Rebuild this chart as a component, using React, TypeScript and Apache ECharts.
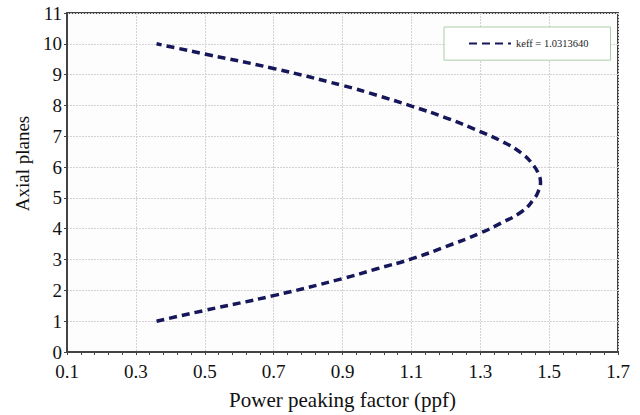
import React, { useEffect, useRef } from "react";
import * as echarts from "echarts";

const seriesName = "keff = 1.0313640";
// Power peaking factor (x) vs axial plane (y)
const ppf = [0.36, 0.5, 0.7, 0.9, 1.0, 1.1, 1.2, 1.3, 1.36, 1.42, 1.455, 1.47, 1.475, 1.47, 1.455, 1.42, 1.36, 1.3, 1.2, 1.1, 1.0, 0.9, 0.7, 0.5, 0.36];
const axial = [1.0, 1.35, 1.83, 2.38, 2.7, 3.02, 3.42, 3.86, 4.18, 4.55, 4.95, 5.25, 5.5, 5.75, 6.05, 6.45, 6.85, 7.15, 7.6, 7.98, 8.33, 8.65, 9.2, 9.67, 10.0];
const xTicks = [0.1, 0.3, 0.5, 0.7, 0.9, 1.1, 1.3, 1.5, 1.7];
const xMinorTicks = [
  0.14, 0.18, 0.22, 0.26, 0.34, 0.38, 0.42, 0.46, 0.54, 0.58, 0.62, 0.66,
  0.74, 0.78, 0.82, 0.86, 0.94, 0.98, 1.02, 1.06, 1.14, 1.18, 1.22, 1.26,
  1.34, 1.38, 1.42, 1.46, 1.54, 1.58, 1.62, 1.66,
];

const FONT = "'Liberation Serif', 'Times New Roman', serif";

export default function App() {
  const ref = useRef<HTMLDivElement>(null);
  useEffect(() => {
    if (!ref.current) return;
    const chart = echarts.init(ref.current, null, { renderer: "svg" });
    const data = ppf.map((x, i) => [x, axial[i]]);
    chart.setOption({
      animation: false,
      backgroundColor: "#ffffff",
      grid: {
        left: 67,
        top: 13,
        right: 22,
        bottom: 61,
        show: true,
        borderColor: "#444",
        borderWidth: 2,
        backgroundColor: "#fdfdfd",
      },
      legend: {
        left: 444,
        top: 27,
        orient: "horizontal",
        padding: [11, 22, 11, 24],
        borderColor: "#a9cfa9",
        borderWidth: 1,
        backgroundColor: "#ffffff",
        itemWidth: 42,
        itemHeight: 14,
        itemGap: 4,
        textStyle: { fontFamily: FONT, fontSize: 10.5, color: "#222" },
        data: [{ name: seriesName, itemStyle: { opacity: 0 } }],
      },
      xAxis: [
        {
          type: "value",
          min: 0.1,
          max: 1.7,
          name: "Power peaking factor (ppf)",
          nameLocation: "middle",
          nameGap: 37,
          nameTextStyle: { fontFamily: FONT, fontSize: 21, color: "#111" },
          axisLine: { show: true, onZero: false, lineStyle: { color: "#444", width: 2 } },
          axisTick: { show: true, length: 3, customValues: xTicks, lineStyle: { color: "#444" } },
          axisLabel: {
            customValues: xTicks,
            fontFamily: FONT,
            fontSize: 19,
            color: "#111",
            margin: 10,
          },
          splitLine: { show: true, lineStyle: { color: "#d4d4d4", type: [2, 1] } },
        },
        {
          type: "value",
          min: 0.1,
          max: 1.7,
          position: "bottom",
          axisLine: { show: false },
          axisTick: { show: true, length: 3, customValues: xMinorTicks, lineStyle: { color: "#444" } },
          axisLabel: { show: false },
          splitLine: { show: false },
        },
      ],
      yAxis: {
        type: "value",
        min: 0,
        max: 11,
        interval: 1,
        name: "Axial planes",
        nameLocation: "middle",
        nameGap: 33,
        nameTextStyle: { fontFamily: FONT, fontSize: 19, color: "#111", padding: [0, 0, 0, 38] },
        axisLine: { show: true, lineStyle: { color: "#444", width: 2 } },
        axisTick: { show: true, length: 3, lineStyle: { color: "#444" } },
        axisLabel: { fontFamily: FONT, fontSize: 19, color: "#111", margin: 5 },
        splitLine: { show: true, lineStyle: { color: "#d4d4d4", type: [2, 1] } },
      },
      series: [
        {
          name: seriesName,
          type: "line",
          data,
          smooth: 0.5,
          showSymbol: false,
          symbol: "none",
          lineStyle: { color: "#16165a", width: 3.5, type: [8, 5] },
          itemStyle: { color: "#16165a" },
        },
      ],
    });
    return () => chart.dispose();
  }, []);
  return <div ref={ref} style={{ width: 640, height: 415, position: "absolute", left: 0, top: 0 }} />;
}
